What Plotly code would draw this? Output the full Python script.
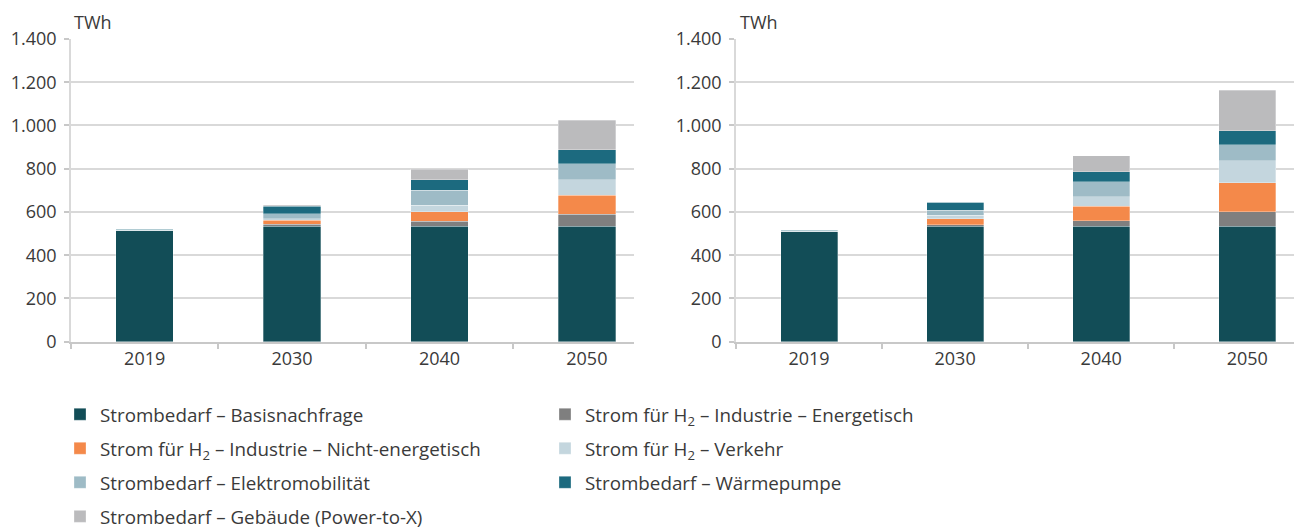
import plotly.graph_objects as go

# Data (TWh)
years = ["2019", "2030", "2040", "2050"]

series_names = [
    "Strombedarf – Basisnachfrage",
    "Strom für H<sub>2</sub> – Industrie – Energetisch",
    "Strom für H<sub>2</sub> – Industrie – Nicht-energetisch",
    "Strom für H<sub>2</sub> – Verkehr",
    "Strombedarf – Elektromobilität",
    "Strombedarf – Wärmepumpe",
    "Strombedarf – Gebäude (Power-to-X)",
]
colors = ["#124d57", "#7f7f7f", "#f4894a", "#c4d6de", "#9ebbc6", "#1c6a7f", "#bbbbbd"]

# left chart
left_basis = [513, 535, 535, 535]
left_energetisch = [0, 8, 22, 54]
left_nicht_energetisch = [0, 18, 43, 89]
left_verkehr = [0, 8, 32, 70]
left_elektro = [2, 23, 68, 74]
left_waerme = [5, 35, 48, 66]
left_gebaeude = [0, 3, 49, 137]

# right chart
right_basis = [508, 534, 535, 535]
right_energetisch = [0, 6, 25, 66]
right_nicht_energetisch = [0, 29, 66, 135]
right_verkehr = [0, 15, 45, 100]
right_elektro = [2, 23, 68, 74]
right_waerme = [5, 37, 46, 65]
right_gebaeude = [0, 2, 74, 189]

left_series = [left_basis, left_energetisch, left_nicht_energetisch, left_verkehr,
               left_elektro, left_waerme, left_gebaeude]
right_series = [right_basis, right_energetisch, right_nicht_energetisch, right_verkehr,
                right_elektro, right_waerme, right_gebaeude]

# which legend column each series goes into
legend_column = ["legend", "legend2", "legend", "legend2", "legend", "legend2", "legend"]

FONT = "Open Sans"
TEXT = "#3a3a3a"
GRID = "#d9d9d9"
AXIS = "#c8c8c8"
W, H = 1294, 530

fig = go.Figure()

for i, name in enumerate(series_names):
    fig.add_trace(go.Bar(
        x=years, y=left_series[i], name=name,
        marker=dict(color=colors[i], line=dict(color="rgba(255,255,255,0.5)", width=0.6)),
        width=0.39, xaxis="x", yaxis="y",
        legend=legend_column[i], legendgroup=f"g{i}", showlegend=True,
    ))
    fig.add_trace(go.Bar(
        x=years, y=right_series[i], name=name,
        marker=dict(color=colors[i], line=dict(color="rgba(255,255,255,0.5)", width=0.6)),
        width=0.39, xaxis="x2", yaxis="y2",
        legendgroup=f"g{i}", showlegend=False,
    ))

xaxis_common = dict(
    type="category", range=[-0.5, 3.32],
    showline=True, linecolor=AXIS, linewidth=1.5,
    ticks="outside", tickson="boundaries", ticklen=6, tickcolor=AXIS, tickwidth=1.5,
    showgrid=False, tickfont=dict(family=FONT, size=18, color=TEXT),
    fixedrange=True,
)
yaxis_common = dict(
    range=[0, 1400], dtick=200, tickformat=",d",
    showgrid=True, gridcolor=GRID, gridwidth=1.5,
    showline=True, linecolor=GRID, linewidth=1.5,
    ticks="outside", ticklen=5, tickcolor=AXIS, tickwidth=1.5,
    ticklabelstandoff=4,
    zeroline=False, tickfont=dict(family=FONT, size=18, color=TEXT),
)

y_bottom = 1 - 341.7 / H
y_top = 1 - 39 / H

legend_common = dict(
    orientation="v", traceorder="grouped", tracegroupgap=6.6,
    font=dict(family=FONT, size=18.8, color=TEXT),
    xanchor="left", yanchor="top", bgcolor="rgba(0,0,0,0)",
    y=1 - 395.5 / H,
)

fig.update_layout(
    width=W, height=H,
    margin=dict(l=0, r=0, t=0, b=0, autoexpand=False),
    paper_bgcolor="white", plot_bgcolor="white",
    barmode="stack", separators=",.",
    xaxis=dict(xaxis_common, domain=[71 / W, 634 / W], anchor="y"),
    yaxis=dict(yaxis_common, domain=[y_bottom, y_top], anchor="x"),
    xaxis2=dict(xaxis_common, domain=[736 / W, 1.0], anchor="y2"),
    yaxis2=dict(yaxis_common, domain=[y_bottom, y_top], anchor="x2"),
    legend=dict(legend_common, x=60 / W),
    legend2=dict(legend_common, x=545 / W),
    font=dict(family=FONT, color=TEXT),
    annotations=[
        dict(text="TWh", x=72 / W, y=1 - 21.5 / H, xref="paper", yref="paper",
             xanchor="left", yanchor="middle", showarrow=False,
             font=dict(family=FONT, size=18, color=TEXT)),
        dict(text="TWh", x=738 / W, y=1 - 21.5 / H, xref="paper", yref="paper",
             xanchor="left", yanchor="middle", showarrow=False,
             font=dict(family=FONT, size=18, color=TEXT)),
    ],
)

# drop the default 8px page margin so the figure sits at the window's corner
fig.write_html("out.html", config={"displayModeBar": False},
               post_script="document.body.style.margin = '0';")
